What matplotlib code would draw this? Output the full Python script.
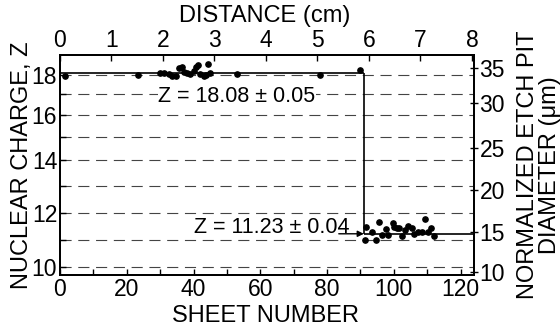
import matplotlib

matplotlib.use("Agg")
import matplotlib.pyplot as plt
import numpy as np

plt.rcParams["font.family"] = ["Liberation Sans Narrow", "Liberation Sans", "DejaVu Sans"]
plt.rcParams["axes.unicode_minus"] = False

# Sheets before the break (Z ~ 18) and after it (Z ~ 11).
UPPER_SHEET = [1.5, 23.4, 30, 31, 32.5, 33.5, 34.8, 35.7, 36.6, 37, 38, 39, 40,
               40.8, 41.4, 42, 43, 43.8, 44.2, 45, 53, 78, 90]
UPPER_Z = [17.95, 18.0, 18.1, 18.1, 18.05, 17.95, 17.95, 18.35, 18.4, 18.15, 18.1,
           18.05, 18.2, 18.4, 18.5, 18.05, 17.95, 18.0, 18.6, 18.1, 18.05, 18.0, 18.25]
LOWER_SHEET = [91.8, 91.5, 93.3, 94.5, 95.4, 96.3, 97.5, 98.1, 99.6, 99.9, 100.8,
               101.4, 102.3, 103.2, 104.1, 105.3, 105.9, 107.1, 108.3, 109.2, 110.1,
               111, 111.9]
LOWER_Z = [11.48, 11.0, 11.3, 11.0, 11.67, 11.19, 11.41, 11.19, 11.63, 11.48, 11.44,
           11.44, 11.15, 11.37, 11.52, 11.44, 11.22, 11.3, 11.3, 11.78, 11.3, 11.44,
           11.15]

Z_FIT = [18.08, 11.23]
Z_ERR = [0.05, 0.04]
BREAK_SHEET = 91

# The printed charge scale is not linear: height of each Z grid line above
# the bottom spine (px), and the same for the etch-pit diameter ticks.
Z_CAL = [9.7, 10, 11, 12, 13, 14, 15, 16, 17, 18, 19.05]
Z_CAL_H = [0, 8, 35, 62, 89, 115, 138, 160, 181, 200, 220]
DIAM_TICKS = [10, 15, 20, 25, 30, 35]
DIAM_H = [3, 43, 85, 127, 172, 207]

Z_GRID = list(range(10, 19))
Z_TICKS = [10, 12, 14, 16, 18]
SHEET_TICKS = list(range(0, 121, 20))
CM_TICKS = list(range(0, 9))
SHEET_LIM = (0, 124)
CM_LIM = (0, 8.04)


def z_fwd(z):
    return np.interp(z, Z_CAL, Z_CAL_H)


def z_inv(h):
    return np.interp(h, Z_CAL_H, Z_CAL)


FS_LAB = 17
FS_TICK = 16.5
FS_NOTE = 15.5

fig = plt.figure(figsize=(5.6, 3.29), dpi=100)
ax = fig.add_axes([60 / 560, 54 / 329, 414 / 560, 220 / 329])

ax.set_yscale("function", functions=(z_fwd, z_inv))
ax.set_xlim(*SHEET_LIM)
ax.set_ylim(Z_CAL[0], Z_CAL[-1])

for z in Z_GRID:
    ax.axhline(z, color="#444444", lw=0.8, dashes=(10, 6), zorder=1)

x0, x1 = SHEET_LIM
ax.hlines(Z_FIT[0], x0, BREAK_SHEET, color="k", lw=1.2, zorder=2)
ax.vlines(BREAK_SHEET, Z_FIT[1], Z_FIT[0], color="k", lw=1.2, zorder=2)
ax.hlines(Z_FIT[1], BREAK_SHEET, x1, color="k", lw=1.2, zorder=2)

ax.plot(UPPER_SHEET, UPPER_Z, "o", color="k", ms=3.8, zorder=3)
ax.plot(LOWER_SHEET, LOWER_Z, "o", color="k", ms=3.8, zorder=3)

box = dict(facecolor="white", edgecolor="none", pad=0.5)
ax.text(29.5, 16.86, f"Z = {Z_FIT[0]:.2f} ± {Z_ERR[0]:.2f}", fontsize=FS_NOTE,
        ha="left", va="center", bbox=box, zorder=4)
ax.text(40, 11.45, f"Z = {Z_FIT[1]:.2f} ± {Z_ERR[1]:.2f}", fontsize=FS_NOTE,
        ha="left", va="center", bbox=box, zorder=4)
ax.annotate("", xy=(BREAK_SHEET, Z_FIT[1]), xytext=(83.5, Z_FIT[1]),
            arrowprops=dict(arrowstyle="-|>", color="k", lw=1.0,
                            mutation_scale=9, shrinkA=0, shrinkB=0), zorder=4)

ax.set_xticks(SHEET_TICKS)
ax.set_xticks(list(range(10, 121, 20)), minor=True)
ax.set_yticks(Z_TICKS)
ax.set_yticks([z for z in Z_GRID if z not in Z_TICKS], minor=True)
ax.yaxis.set_minor_formatter(plt.NullFormatter())
ax.tick_params(which="both", direction="in", length=4, width=1, labelsize=FS_TICK)
ax.tick_params(axis="x", pad=2)
ax.tick_params(axis="y", pad=2)
ax.set_xlabel("SHEET NUMBER", fontsize=FS_LAB)
ax.xaxis.set_label_coords(0.496, -0.135)
ax.set_ylabel("NUCLEAR CHARGE, Z", fontsize=FS_LAB)
ax.yaxis.set_label_coords(-0.065, 0.5)

# right: normalized etch pit diameter on the same (non-linear) scale
ax2 = ax.twinx()
ax2.set_yscale("function", functions=(z_fwd, z_inv))
ax2.set_ylim(Z_CAL[0], Z_CAL[-1])
ax2.set_yticks(z_inv(DIAM_H))
ax2.set_yticklabels([str(d) for d in DIAM_TICKS])
ax2.yaxis.set_minor_locator(plt.NullLocator())
ax2.tick_params(direction="inout", length=6, width=1, labelsize=FS_TICK, pad=1)
ax2.set_ylabel("NORMALIZED ETCH PIT\nDIAMETER (μm)", fontsize=FS_LAB, linespacing=0.95)
ax2.yaxis.set_label_coords(1.105, 0.5)

# top: distance along the stack
ax3 = ax.twiny()
ax3.set_xlim(*CM_LIM)
ax3.set_xticks(CM_TICKS)
ax3.tick_params(direction="in", length=4, width=1, labelsize=FS_TICK, pad=2)
ax3.set_xlabel("DISTANCE (cm)", fontsize=FS_LAB)
ax3.xaxis.set_label_coords(0.495, 1.15)

for a in (ax, ax2, ax3):
    for s in a.spines.values():
        s.set_linewidth(1.2)

fig.savefig("out.png", dpi=100)
